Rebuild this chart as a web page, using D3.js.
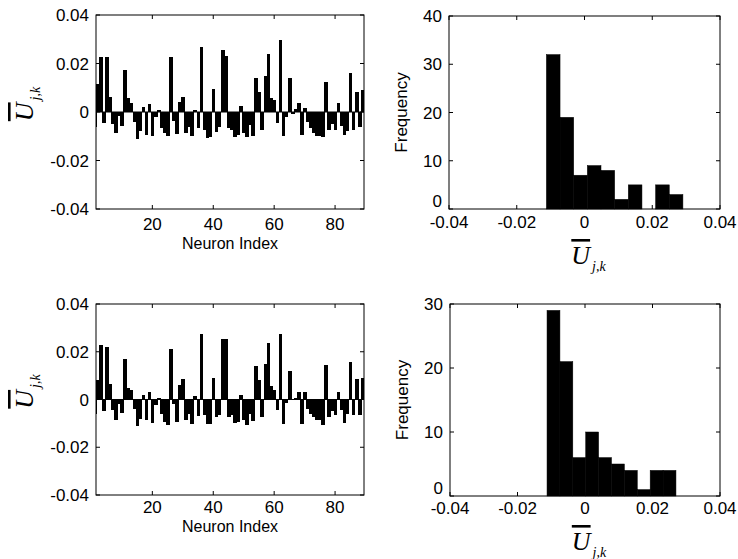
<!DOCTYPE html>
<html>
<head>
<meta charset="utf-8">
<script src="https://cdn.jsdelivr.net/npm/d3@7/dist/d3.min.js"></script>
<style>
body { margin: 0; background: #fff; }
svg text { font-family: "Liberation Sans", Arial, sans-serif; fill: #000; }
.sym { font-family: "Liberation Serif", "Times New Roman", serif; font-style: italic; }
</style>
</head>
<body>
<svg width="738" height="559"></svg>
<script>
// mean U per neuron, neurons 1..90 (first and last fall outside the x limits)
var topValues = [-0.006, 0.0116, 0.0225, -0.0045, 0.0225, 0.0063, -0.005, -0.0087, -0.0015, -0.0056,
  0.0172, 0.0057, 0.0038, -0.0042, -0.011, -0.008, 0.002, -0.0094, 0.0032, -0.0098,
  -0.002, 0.0008, -0.0066, -0.0087, -0.0101, 0.0225, -0.0038, -0.009, 0.004, 0.0063,
  -0.0087, -0.006, -0.01, 0.0008, -0.0066, 0.0266, -0.0073, -0.0108, -0.0104, 0.0095,
  -0.0084, -0.0063, 0.0256, 0.0232, -0.0066, -0.0073, -0.0104, -0.0094, 0.0025, -0.0087,
  -0.0104, -0.0052, -0.0098, 0.0141, 0.0081, -0.0076, 0.0148, 0.0238, 0.0056, 0.005,
  -0.0045, 0.0298, -0.0098, -0.002, 0.0141, -0.0008, 0.0011, 0.0036, -0.0094, 0.0015,
  -0.0042, -0.0066, -0.0087, -0.0098, -0.0098, -0.0104, 0.0123, -0.0076, -0.0048, -0.0076,
  0.0036, -0.0056, -0.0094, -0.008, 0.016, -0.0076, 0.0081, -0.0063, 0.0092, 0.004]

var bottomValues = [-0.006, 0.0081, 0.0227, -0.0048, 0.0221, 0.0063, -0.0045, -0.0087, -0.002, -0.0056,
  0.0171, 0.005, 0.0039, -0.0038, -0.011, -0.008, 0.002, -0.0087, 0.0032, -0.0098,
  -0.0024, 0.0008, -0.0062, -0.0094, -0.0108, 0.0213, -0.002, -0.0094, 0.006, 0.0085,
  -0.0087, -0.0059, -0.0101, 0.0014, -0.0069, 0.0273, -0.0066, -0.0104, -0.0104, 0.0092,
  -0.0073, -0.0066, 0.0255, 0.0252, -0.0073, -0.0066, -0.0098, -0.0094, 0.0018, -0.0084,
  -0.0108, -0.0059, -0.0091, 0.014, 0.0081, -0.0073, 0.0147, 0.0238, 0.0056, 0.0039,
  -0.0045, 0.0274, -0.0104, -0.0014, 0.0118, -0.0003, 0.0008, 0.0032, -0.0101, 0.0032,
  -0.0038, -0.0059, -0.0073, -0.0084, -0.0087, -0.0108, 0.0146, -0.0073, -0.0048, -0.0066,
  0.0031, -0.0045, -0.0098, -0.0059, 0.0158, -0.0066, 0.0085, -0.0066, 0.0092, 0.004]

var topHistCounts = [32, 19, 7, 9, 8, 2, 5, 0, 5, 3]
var topHistEdges = [-0.01125, -0.00722, -0.00319, 0.00084, 0.00487, 0.0089, 0.01293, 0.01696, 0.02099, 0.02502, 0.02905]
var bottomHistCounts = [29, 21, 6, 10, 6, 5, 4, 1, 4, 4]
var bottomHistEdges = [-0.01125, -0.00743, -0.00361, 0.00021, 0.00403, 0.00785, 0.01167, 0.01549, 0.01931, 0.02313, 0.02695]

var barXDomain = [1.5, 89.5]
var barXTicks = [20, 40, 60, 80]
var valueTicks = [-0.04, -0.02, 0, 0.02, 0.04]
var topFreqTicks = [0, 10, 20, 30, 40]
var bottomFreqTicks = [0, 10, 20, 30]

var svg = d3.select("svg")
var tickLen = 4

function fmtVal(d) { return d === 0 ? "0" : d.toFixed(2) }

function frame(g, w, h, x, y, xt, yt) {
    // inward ticks on all four sides, like a boxed matlab axes
    g.selectAll(".xt").data(xt).enter().append("path")
        .attr("d", d => "M" + x(d) + "," + h + "v" + (-tickLen) + "M" + x(d) + ",0v" + tickLen)
        .attr("stroke", "#000")
    g.selectAll(".yt").data(yt).enter().append("path")
        .attr("d", d => "M0," + y(d) + "h" + tickLen + "M" + w + "," + y(d) + "h" + (-tickLen))
        .attr("stroke", "#000")
    g.append("rect").attr("x", 0).attr("y", 0).attr("width", w).attr("height", h)
        .attr("fill", "none").attr("stroke", "#000")
}

function symbolLabel(g, x, y, rotate) {
    var t = g.append("text").attr("class", "sym")
        .attr("transform", "translate(" + x + "," + y + ")" + (rotate ? " rotate(-90)" : ""))
        .attr("text-anchor", "middle")
    t.append("tspan").attr("font-size", 26).attr("text-decoration", "overline").text("U")
    t.append("tspan").attr("font-size", 14).attr("dy", 7).attr("dx", 2).text("j,k")
}

function drawBars(p, vals) {
    var g = svg.append("g").attr("transform", "translate(" + p.left + "," + p.top + ")")
    var x = d3.scaleLinear().domain(barXDomain).range([0, p.width])
    var y = d3.scaleLinear().domain([-0.04, 0.04]).range([p.height, 0])

    g.append("clipPath").attr("id", p.id).append("rect")
        .attr("width", p.width).attr("height", p.height)

    g.append("g").attr("clip-path", "url(#" + p.id + ")")
        .attr("shape-rendering", "crispEdges")
        .selectAll("rect").data(vals).enter().append("rect")
        .attr("x", (d, i) => x(i + 0.5))
        .attr("width", x(2) - x(1) + 0.6)
        .attr("y", d => y(Math.max(0, d)))
        .attr("height", d => Math.abs(y(d) - y(0)))
        .attr("fill", "#000")

    g.append("line").attr("x1", 0).attr("x2", p.width)
        .attr("y1", y(0)).attr("y2", y(0)).attr("stroke", "#000")

    frame(g, p.width, p.height, x, y, barXTicks, valueTicks)

    g.selectAll(".xl").data(barXTicks).enter().append("text")
        .attr("x", d => x(d)).attr("y", p.height + p.xlab)
        .attr("text-anchor", "middle").attr("font-size", 17).text(d => d)
    g.selectAll(".yl").data(valueTicks).enter().append("text")
        .attr("x", -7).attr("y", d => y(d)).attr("dy", "0.36em")
        .attr("text-anchor", "end").attr("font-size", 17).text(fmtVal)

    g.append("text").attr("x", p.width / 2).attr("y", p.height + p.xlab + 19)
        .attr("text-anchor", "middle").attr("font-size", 16).text("Neuron Index")

    symbolLabel(g, -63, p.height / 2 - 8, true)
}

function drawHist(p, counts, edges, yTicks) {
    var g = svg.append("g").attr("transform", "translate(" + p.left + "," + p.top + ")")
    var x = d3.scaleLinear().domain([-0.04, 0.04]).range([0, p.width])
    var y = d3.scaleLinear().domain([0, d3.max(yTicks)]).range([p.height, 0])

    g.selectAll("rect").data(counts).enter().append("rect")
        .attr("x", (d, i) => x(edges[i]))
        .attr("width", (d, i) => x(edges[i + 1]) - x(edges[i]))
        .attr("y", d => y(d))
        .attr("height", d => y(0) - y(d))
        .attr("fill", "#000").attr("stroke", "#000").attr("stroke-width", 0.5)

    frame(g, p.width, p.height, x, y, valueTicks, yTicks)

    g.selectAll(".xl").data(valueTicks).enter().append("text")
        .attr("x", d => x(d)).attr("y", p.height + p.xlab)
        .attr("text-anchor", "middle").attr("font-size", 17).text(fmtVal)
    g.selectAll(".yl").data(yTicks).enter().append("text")
        .attr("x", -7).attr("y", d => y(d)).attr("dy", d => d === 0 ? "-0.1em" : "0.36em")
        .attr("text-anchor", "end").attr("font-size", 17).text(d => d)

    g.append("text").attr("transform", "translate(-42," + (p.height / 2) + ") rotate(-90)")
        .attr("text-anchor", "middle").attr("font-size", 17).text("Frequency")

    symbolLabel(g, p.width / 2 + 4, p.height + p.xlab + 36, false)
}

drawBars({ id: "c1", left: 96, top: 15, width: 268, height: 194, xlab: 21 }, topValues)
drawHist({ left: 449, top: 16, width: 271, height: 193, xlab: 19 }, topHistCounts, topHistEdges, topFreqTicks)
drawBars({ id: "c2", left: 96, top: 304, width: 268, height: 191, xlab: 18 }, bottomValues)
drawHist({ left: 450, top: 304, width: 270, height: 192, xlab: 18 }, bottomHistCounts, bottomHistEdges, bottomFreqTicks)
</script>
</body>
</html>
